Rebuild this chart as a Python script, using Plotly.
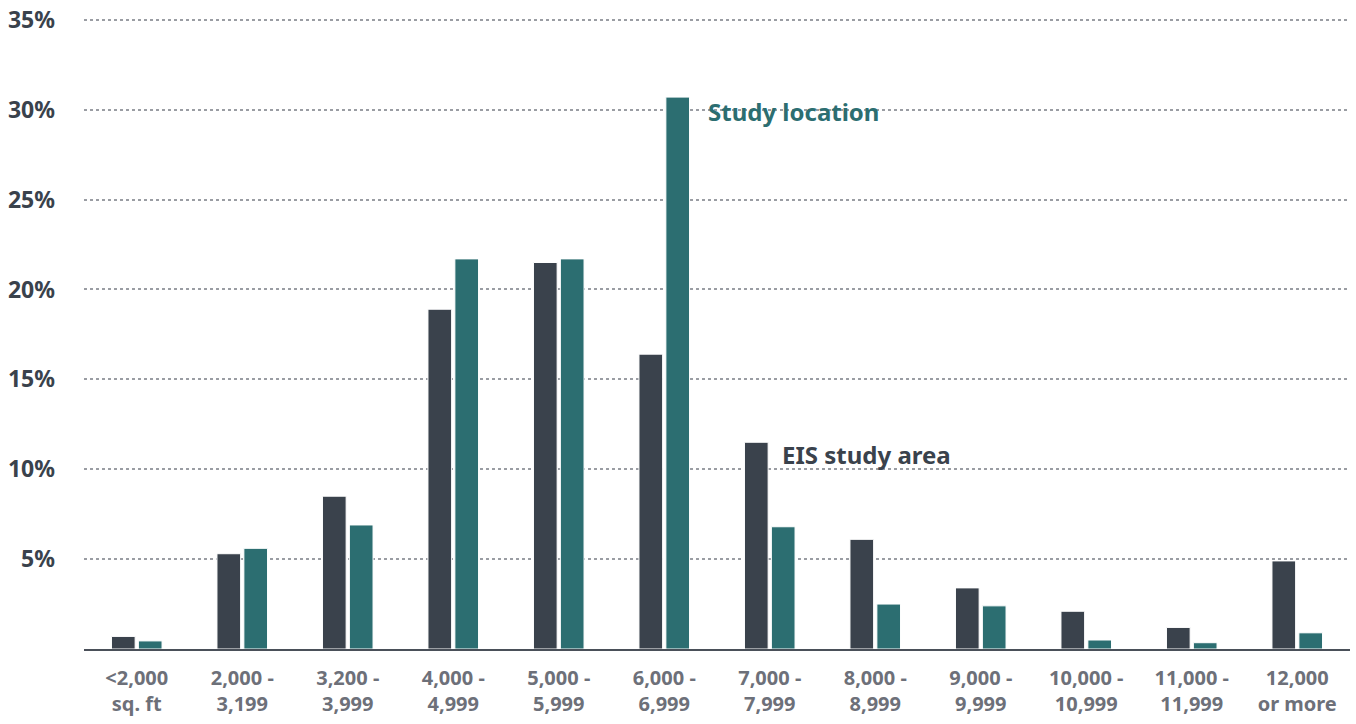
import plotly.graph_objects as go

categories = ["<2,000<br>sq. ft", "2,000 -<br>3,199", "3,200 -<br>3,999", "4,000 -<br>4,999",
              "5,000 -<br>5,999", "6,000 -<br>6,999", "7,000 -<br>7,999", "8,000 -<br>8,999",
              "9,000 -<br>9,999", "10,000 -<br>10,999", "11,000 -<br>11,999", "12,000<br>or more"]
eis_study_area = [0.7, 5.3, 8.5, 18.9, 21.5, 16.4, 11.5, 6.1, 3.4, 2.1, 1.2, 4.9]
study_location = [0.45, 5.6, 6.9, 21.7, 21.7, 30.7, 6.8, 2.5, 2.4, 0.5, 0.35, 0.9]
y_ticks = [5, 10, 15, 20, 25, 30, 35]
y_labels = ["5%", "10%", "15%", "20%", "25%", "30%", "35%"]

DARK = "#3a424c"
TEAL = "#2c6e71"
FONT = "Noto Sans"

fig = go.Figure()
fig.add_trace(go.Bar(x=categories, y=eis_study_area, name="EIS study area",
                     marker=dict(color=DARK, line=dict(color="white", width=1))))
fig.add_trace(go.Bar(x=categories, y=study_location, name="Study location",
                     marker=dict(color=TEAL, line=dict(color="white", width=1))))

fig.add_annotation(x=5, y=29.9, xref="x", yref="y", xshift=42, text="<b>Study location</b>",
                   showarrow=False, xanchor="left", yanchor="middle",
                   font=dict(family=FONT, size=24, color=TEAL))
fig.add_annotation(x=6, y=10.8, xref="x", yref="y", xshift=10, text="<b>EIS study area</b>",
                   showarrow=False, xanchor="left", yanchor="middle",
                   font=dict(family=FONT, size=24, color=DARK))

fig.update_layout(
    width=1356, height=724,
    margin=dict(l=84, r=6, t=18, b=75),
    plot_bgcolor="white", paper_bgcolor="white",
    barmode="group", bargap=0.49, bargroupgap=0.12,
    showlegend=False,
    font=dict(family=FONT),
)
fig.update_yaxes(range=[0, 35.1], tickvals=y_ticks, ticktext=y_labels,
                 showgrid=True, gridcolor="#9a9da3", griddash="dot", gridwidth=1.5,
                 zeroline=False, showline=False, automargin=False,
                 tickfont=dict(family=FONT, size=23, color=DARK, weight="bold"),
                 ticklabelstandoff=28)
fig.update_xaxes(showline=True, linecolor="#4a5059", linewidth=2, automargin=False,
                 tickfont=dict(family=FONT, size=20, color="#6d7079", weight="bold"),
                 ticks="", ticklabelstandoff=10)

fig.write_html("out.html", config={"displayModeBar": False},
               post_script="document.body.style.margin='0';")
